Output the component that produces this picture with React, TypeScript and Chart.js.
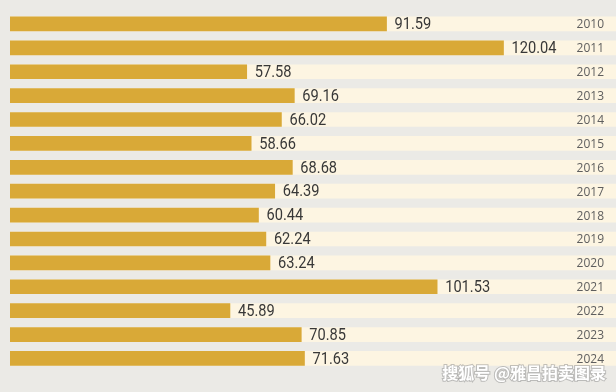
import React, { useEffect, useRef } from "react";
import { Chart, registerables } from "chart.js";

Chart.register(...registerables);

const years = ["2010", "2011", "2012", "2013", "2014", "2015", "2016", "2017", "2018", "2019", "2020", "2021", "2022", "2023", "2024"];
// printed value labels
const valueLabels = ["91.59", "120.04", "57.58", "69.16", "66.02", "58.66", "68.68", "64.39", "60.44", "62.24", "63.24", "101.53", "45.89", "70.85", "71.63"];
// bar lengths as drawn in the picture
const barLengths = [91.59, 120.04, 57.58, 69.16, 66.02, 58.66, 68.68, 64.39, 60.44, 62.24, 63.24, 103.9, 53.5, 70.85, 71.63];
const xMax = 147.4;
const bandValues = years.map(() => xMax);
const watermark = "搜狐号 @雅昌拍卖图录";

const BG = "#ebeae6";
const GOLD = "#d9a937";
const CREAM = "#fdf5e2";

const labelPlugin = {
  id: "labels",
  afterDatasetsDraw(chart: any) {
    const ctx = chart.ctx;
    const xs = chart.scales.x;
    const ys = chart.scales.y;
    const area = chart.chartArea;
    ctx.save();
    barLengths.forEach((v, i) => {
      const y = ys.getPixelForValue(i);
      const x = xs.getPixelForValue(v);
      ctx.save();
      ctx.translate(x + 8, y + 1);
      ctx.scale(0.86, 1);
      ctx.fillStyle = "#383838";
      ctx.font = "17px Roboto, sans-serif";
      ctx.textAlign = "left";
      ctx.textBaseline = "middle";
      ctx.fillText(valueLabels[i], 0, 0);
      ctx.restore();
      ctx.fillStyle = "#5e5e5e";
      ctx.font = "12px 'Open Sans', sans-serif";
      ctx.textAlign = "right";
      ctx.textBaseline = "middle";
      ctx.fillText(years[i], area.right - 12, y + 1);
    });
    ctx.font = "bold 16px 'Noto Sans CJK SC', sans-serif";
    ctx.textAlign = "right";
    ctx.textBaseline = "middle";
    ctx.lineWidth = 2;
    ctx.strokeStyle = "rgba(140,140,140,0.5)";
    ctx.strokeText(watermark, 606, 373);
    ctx.fillStyle = "#ffffff";
    ctx.fillText(watermark, 606, 373);
    ctx.restore();
  },
};

export default function App() {
  const ref = useRef<HTMLCanvasElement>(null);
  useEffect(() => {
    document.body.style.margin = "0";
    const chart = new Chart(ref.current as HTMLCanvasElement, {
      type: "bar",
      data: {
        labels: years,
        datasets: [
          { data: barLengths, backgroundColor: GOLD, barThickness: 14, grouped: false, order: 0 } as any,
          { data: bandValues, backgroundColor: CREAM, barThickness: 14, grouped: false, order: 1 } as any,
        ],
      },
      options: {
        indexAxis: "y",
        responsive: false,
        animation: false,
        layout: { padding: { left: 10, right: 0, top: 12, bottom: 21.6 } },
        plugins: { legend: { display: false }, tooltip: { enabled: false } },
        scales: {
          x: { display: false, min: 0, max: xMax },
          y: { display: false },
        },
      },
      plugins: [labelPlugin],
    });
    return () => chart.destroy();
  }, []);
  return (
    <div style={{ width: 616, height: 392, background: BG }}>
      <canvas ref={ref} width={616} height={392} />
    </div>
  );
}
